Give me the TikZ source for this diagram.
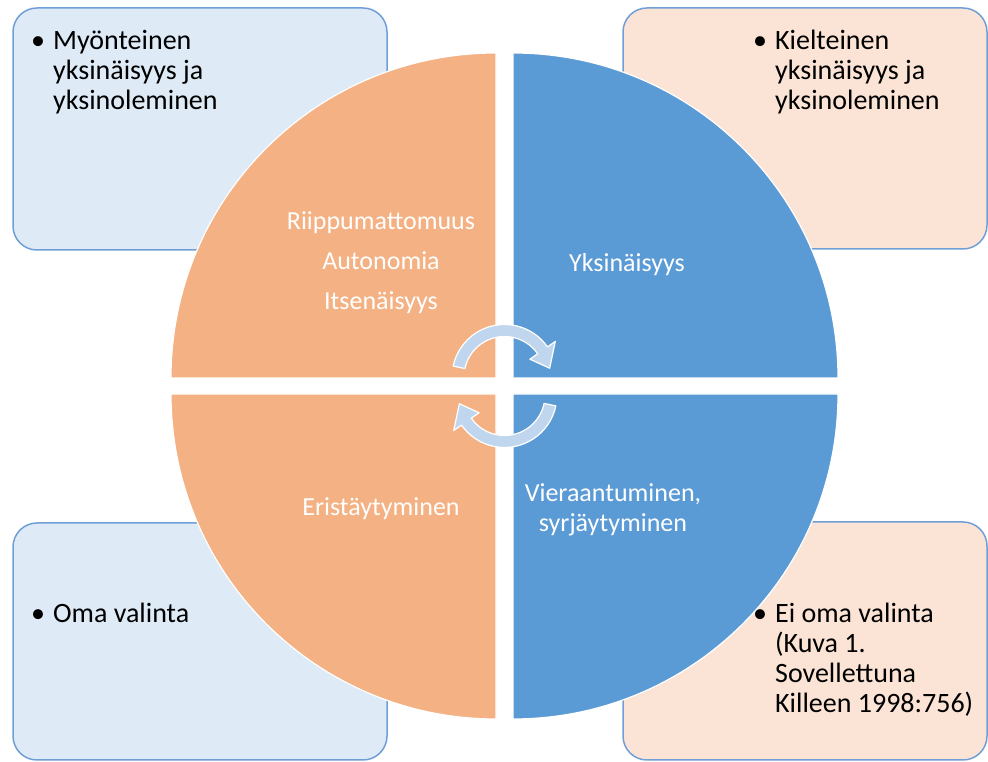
\documentclass[tikz,border=0pt]{standalone}
\usepackage{fontspec}
\setmainfont{Carlito}
\definecolor{quadorange}{HTML}{F4B183}
\definecolor{quadblue}{HTML}{5B9BD5}
\definecolor{paleblue}{HTML}{DEEAF6}
\definecolor{palepeach}{HTML}{FBE4D6}
\definecolor{boxline}{HTML}{6F9FD6}
\definecolor{turnfill}{HTML}{C0D6EE}
\tikzset{
  infobox/.style={draw=boxline, line width=1.5pt, rounded corners=24pt},
  quad/.style={draw=white, line width=1.2pt},
  turn/.style={fill=turnfill, draw=white, line width=1.2pt, line join=round},
  listtext/.style={anchor=base west, inner sep=0pt, font=\fontsize{28}{30}\selectfont},
  quadtext/.style={align=center, inner sep=0pt, text=white}
}
\begin{document}
\begin{tikzpicture}[x=1pt,y=1pt]
\useasboundingbox (0,0) rectangle (988,762);
% boxes in the corners
\draw[infobox, fill=paleblue] (13,512) rectangle (387,754);
\draw[infobox, fill=palepeach] (623,513) rectangle (987,754);
\draw[infobox, fill=paleblue] (13,2) rectangle (387,239);
\draw[infobox, fill=palepeach] (623,2) rectangle (987,240);
% the four quarters
\filldraw[quad, fill=quadorange] (496,384) -- ++(-325,0) arc[start angle=180, end angle=90, radius=325] -- cycle;
\filldraw[quad, fill=quadblue] (513,384) -- ++(0,325) arc[start angle=90, end angle=0, radius=325] -- cycle;
\filldraw[quad, fill=quadorange] (496,368) -- ++(-325,0) arc[start angle=180, end angle=270, radius=325] -- cycle;
\filldraw[quad, fill=quadblue] (513,368) -- ++(325,0) arc[start angle=0, end angle=-90, radius=325] -- cycle;
% turning arrows
\begin{scope}[shift={(504.5,385)}]
\filldraw[turn] (168:52.5) arc[start angle=168, end angle=35, radius=52.5] -- (35:62) -- (11:46)
  -- (35:31) -- (35:40.5) arc[start angle=35, end angle=168, radius=40.5] -- cycle;
\end{scope}
\begin{scope}[shift={(504.5,367)}, rotate=180]
\filldraw[turn] (168:52.5) arc[start angle=168, end angle=35, radius=52.5] -- (35:62) -- (11:46)
  -- (35:31) -- (35:40.5) arc[start angle=35, end angle=168, radius=40.5] -- cycle;
\end{scope}
% texts in the quarters
\node[quadtext, font=\fontsize{26}{40}\selectfont] (indep) at (381,499) {Riippumattomuus\\Autonomia\\Itsenäisyys};
\node[quadtext, font=\fontsize{26}{30}\selectfont] (lonely) at (627,497) {Yksinäisyys};
\node[quadtext, font=\fontsize{26}{30}\selectfont] (isol) at (381,253) {Eristäytyminen};
\node[quadtext, font=\fontsize{26}{30}\selectfont] (alien) at (613,252) {Vieraantuminen,\\syrjäytyminen};
% texts in the boxes
\node[listtext] (pos) at (31,712) {\begin{tabular}[t]{@{}l@{\hspace{8pt}}l@{}}•&Myönteinen\\&yksinäisyys ja\\&yksinoleminen\end{tabular}};
\node[listtext] (neg) at (753,712) {\begin{tabular}[t]{@{}l@{\hspace{8pt}}l@{}}•&Kielteinen\\&yksinäisyys ja\\&yksinoleminen\end{tabular}};
\node[listtext] (own) at (31,139) {\begin{tabular}[t]{@{}l@{\hspace{8pt}}l@{}}•&Oma valinta\end{tabular}};
\node[listtext] (notown) at (753,139) {\begin{tabular}[t]{@{}l@{\hspace{8pt}}l@{}}•&Ei oma valinta\\&(Kuva 1.\\&Sovellettuna\\&Killeen 1998:756)\end{tabular}};
\end{tikzpicture}
\end{document}
